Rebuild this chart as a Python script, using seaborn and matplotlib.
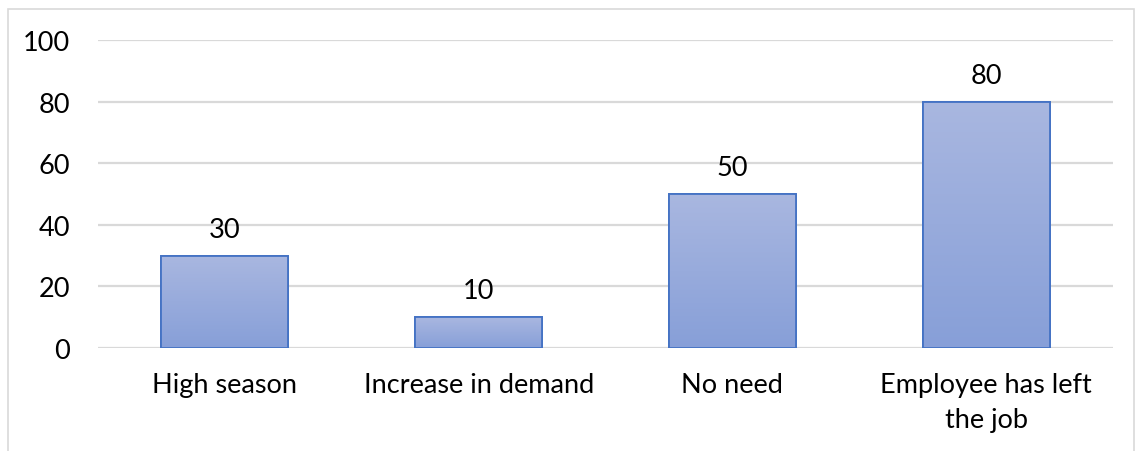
import numpy as np
import pandas as pd
import matplotlib
matplotlib.use("Agg")
import matplotlib.pyplot as plt
import seaborn as sns
from matplotlib.patches import Rectangle

categories = ["High season", "Increase in demand", "No need", "Employee has left\nthe job"]
values = [30, 10, 50, 80]
yticks = [0, 20, 40, 60, 80, 100]

sns.set_theme(style="white")
plt.rcParams['font.family'] = ['Lato', 'DejaVu Sans']

FS = 19.5

fig = plt.figure(figsize=(11.43, 4.52), dpi=100)
ax = fig.add_axes([98/1143, 1-349/452, (1113-98)/1143, (349-41)/452])

df = pd.DataFrame({"cat": categories, "val": values})
sns.barplot(data=df, x="cat", y="val", ax=ax, width=0.5, color="#9AACDC",
            edgecolor="#4472C4", linewidth=1.3, zorder=3)

# gradient fill clipped to bars
grad = np.linspace(0, 1, 256).reshape(-1, 1)
top = np.array([0xA9, 0xB7, 0xE0]) / 255
bot = np.array([0x87, 0x9F, 0xD8]) / 255
img = top[None, None, :] * (1 - grad[:, :, None]) + bot[None, None, :] * grad[:, :, None]
for p in ax.patches:
    x0, y0 = p.get_x(), p.get_y()
    w, h = p.get_width(), p.get_height()
    im = ax.imshow(img, extent=[x0, x0 + w, y0, y0 + h], aspect="auto", zorder=3.5,
                   origin="upper")
    im.set_clip_path(p)
    ax.add_patch(Rectangle((x0, y0), w, h, fill=False, edgecolor="#4472C4",
                           linewidth=1.3, zorder=4))

for i, v in enumerate(values):
    ax.annotate(f"{v}", (i, v), xytext=(0, 10), textcoords="offset points",
                ha="center", va="bottom", fontsize=FS, color="#000000")

ax.set_xlim(-0.5, 3.5)
ax.set_ylim(0, 100)
ax.set_yticks(yticks)
ax.set_yticklabels([str(t) for t in yticks], fontsize=FS, color="#000000")
ax.tick_params(axis="x", labelsize=FS, colors="#000000", length=0, pad=17)
for lbl in ax.get_xticklabels():
    lbl.set_linespacing(1.5)
ax.tick_params(axis="y", length=0, pad=20)
ax.yaxis.grid(True, color="#D9D9D9", linewidth=1.6, zorder=0)
ax.set_axisbelow(True)
for s in ax.spines.values():
    s.set_visible(False)
ax.set_xlabel("")
ax.set_ylabel("")

# outer chart border
fig.patches.append(Rectangle((8/1143, -0.05), (1134-8)/1143, 1 - 10/452 + 0.05,
                             transform=fig.transFigure, fill=False,
                             edgecolor="#D9D9D9", linewidth=1.2))

fig.savefig("out.png", dpi=100)
